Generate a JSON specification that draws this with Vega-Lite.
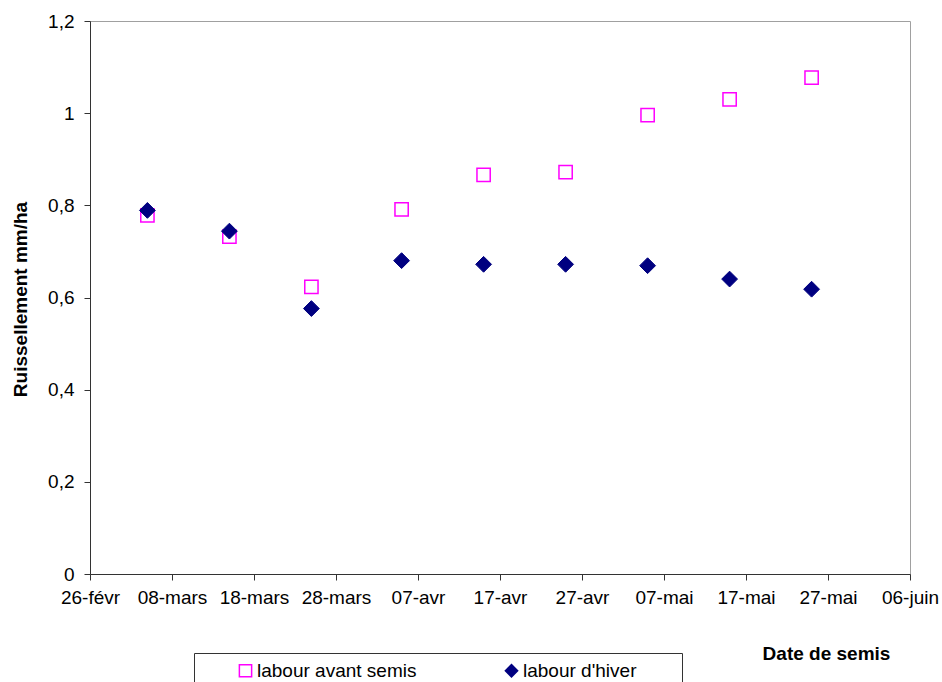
{
  "$schema": "https://vega.github.io/schema/vega-lite/v6.json",
  "width": 820,
  "height": 553,
  "autosize": {"type": "none"},
  "padding": {"left": 90, "top": 21, "right": 32, "bottom": 108},
  "background": "white",
  "config": {"view": {"stroke": "#a0a0a0", "strokeWidth": 1}, "font": "Liberation Sans"},
  "data": {
    "values": [
      {"date": "2001-03-05", "serie": "labour avant semis", "ruissellement": 0.778},
      {"date": "2001-03-15", "serie": "labour avant semis", "ruissellement": 0.732},
      {"date": "2001-03-25", "serie": "labour avant semis", "ruissellement": 0.623},
      {"date": "2001-04-05", "serie": "labour avant semis", "ruissellement": 0.791},
      {"date": "2001-04-15", "serie": "labour avant semis", "ruissellement": 0.866},
      {"date": "2001-04-25", "serie": "labour avant semis", "ruissellement": 0.872},
      {"date": "2001-05-05", "serie": "labour avant semis", "ruissellement": 0.996},
      {"date": "2001-05-15", "serie": "labour avant semis", "ruissellement": 1.030},
      {"date": "2001-05-25", "serie": "labour avant semis", "ruissellement": 1.077},
      {"date": "2001-03-05", "serie": "labour d'hiver", "ruissellement": 0.789},
      {"date": "2001-03-15", "serie": "labour d'hiver", "ruissellement": 0.744},
      {"date": "2001-03-25", "serie": "labour d'hiver", "ruissellement": 0.576},
      {"date": "2001-04-05", "serie": "labour d'hiver", "ruissellement": 0.680},
      {"date": "2001-04-15", "serie": "labour d'hiver", "ruissellement": 0.672},
      {"date": "2001-04-25", "serie": "labour d'hiver", "ruissellement": 0.672},
      {"date": "2001-05-05", "serie": "labour d'hiver", "ruissellement": 0.669},
      {"date": "2001-05-15", "serie": "labour d'hiver", "ruissellement": 0.640},
      {"date": "2001-05-25", "serie": "labour d'hiver", "ruissellement": 0.618}
    ]
  },
  "encoding": {
    "x": {
      "field": "date",
      "type": "temporal",
      "scale": {"type": "utc", "domain": [983145600000, 991785600000]},
      "axis": {
        "values": [983145600000, 984009600000, 984873600000, 985737600000, 986601600000, 987465600000, 988329600000, 989193600000, 990057600000, 990921600000, 991785600000],
        "labelExpr": "utcFormat(datum.value, '%d') + '-' + ['janv','févr','mars','avr','mai','juin'][utcmonth(datum.value)]",
        "labelFontSize": 19,
        "labelColor": "black",
        "labelPadding": 8,
        "labelOverlap": false,
        "labelFlush": false,
        "tickSize": 6,
        "tickColor": "#333333",
        "domainColor": "#333333",
        "grid": false,
        "title": "Date de semis",
        "titleX": 736,
        "titleY": 79,
        "titleAlign": "center",
        "titleBaseline": "middle",
        "titleFontSize": 19,
        "titleFontWeight": "bold",
        "titleColor": "black"
      }
    },
    "y": {
      "field": "ruissellement",
      "type": "quantitative",
      "scale": {"domain": [0, 1.2]},
      "axis": {
        "values": [0, 0.2, 0.4, 0.6, 0.8, 1, 1.2],
        "format": "~g",
        "labelExpr": "replace(datum.label, '.', ',')",
        "labelFontSize": 19,
        "labelColor": "black",
        "labelPadding": 10,
        "tickSize": 6,
        "tickColor": "#333333",
        "domainColor": "#333333",
        "grid": false,
        "title": "Ruissellement mm/ha",
        "titleX": -70,
        "titleY": 278,
        "titleAngle": -90,
        "titleAlign": "center",
        "titleBaseline": "middle",
        "titleFontSize": 19,
        "titleFontWeight": "bold",
        "titleColor": "black"
      }
    },
    "shape": {
      "field": "serie",
      "type": "nominal",
      "scale": {"domain": ["labour avant semis", "labour d'hiver"], "range": ["square", "diamond"]},
      "legend": {
        "title": null,
        "orient": "none",
        "legendX": 104,
        "legendY": 632,
        "direction": "horizontal",
        "columns": 2,
        "padding": 8,
        "strokeColor": "#333333",
        "fillColor": "white",
        "symbolSize": 150,
        "symbolStrokeWidth": 1.5,
        "symbolOffset": 34,
        "labelOffset": 2,
        "columnPadding": 51,
        "labelFontSize": 19,
        "labelColor": "black",
        "labelLimit": 400,
        "labelExpr": "indexof(datum.label, 'hiver') >= 0 ? datum.label + '\u00a0\u00a0\u00a0\u00a0\u00a0\u00a0\u00a0\u200b' : datum.label"
      }
    },
    "stroke": {
      "field": "serie",
      "type": "nominal",
      "scale": {"domain": ["labour avant semis", "labour d'hiver"], "range": ["#FF00FF", "#000080"]}
    },
    "fill": {
      "field": "serie",
      "type": "nominal",
      "scale": {"domain": ["labour avant semis", "labour d'hiver"], "range": ["transparent", "#000080"]}
    }
  },
  "layer": [
    {
      "transform": [{"filter": "datum.serie == 'labour avant semis'"}],
      "mark": {"type": "point", "strokeWidth": 1.5, "opacity": 1, "size": 176}
    },
    {
      "transform": [{"filter": "datum.serie != 'labour avant semis'"}],
      "mark": {"type": "point", "strokeWidth": 1, "opacity": 1, "size": 250}
    }
  ]
}
